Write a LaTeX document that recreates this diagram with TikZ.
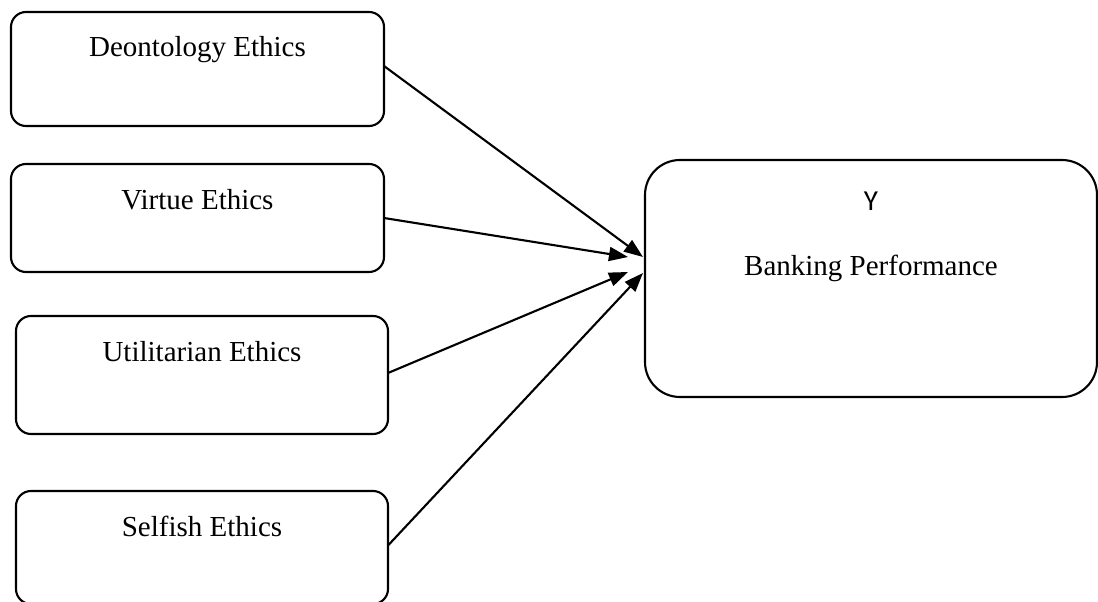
\documentclass[tikz,border=0pt]{standalone}
\usepackage{fontspec}
\setmainfont{Liberation Serif}
\newfontfamily\ycarlito{Carlito}
\usepackage{tikz}
\usetikzlibrary{shapes.geometric, arrows.meta}
\usetikzlibrary{positioning}
\tikzstyle{ethics} = [rectangle, rounded corners=0.3cm, minimum width=7.46cm, inner sep=0pt, outer sep=0pt, text height=0.9cm, text centered, draw=black, line width=1.2pt, font=\fontsize{16.5pt}{20pt}\selectfont]
\tikzstyle{perform} = [rectangle, rounded corners=0.7cm, minimum width=9.04cm, inner sep=0pt, outer sep=0pt, text height=2.3cm, text depth=2.44cm, text centered, draw=black, line width=1.2pt, font=\fontsize{16.5pt}{20pt}\selectfont]
\tikzstyle{arrow} = [line width=1.2pt, -{Triangle[length=0.38cm, width=0.28cm]}]

\begin{document}
\begin{tikzpicture}[node distance=3cm]
\useasboundingbox (0,0) rectangle (21.96,-12.04);

\node (deont) [ethics, text depth=1.38cm] at (3.95,-1.38) {Deontology Ethics};
\node (virtue) [ethics, text depth=1.26cm, below of=deont, yshift=0.02cm] {Virtue Ethics};
\node (util) [ethics, minimum width=7.44cm, text depth=1.46cm, below of=virtue, xshift=0.09cm, yshift=-0.14cm] {Utilitarian Ethics};
\node (selfish) [ethics, minimum width=7.44cm, text depth=1.36cm, below of=util, yshift=-0.45cm] {Selfish Ethics};
\node (bank) [perform, right=5.22cm of virtue, yshift=-1.21cm] {Banking Performance};
\node (yvar) [anchor=base, font=\ycarlito\fontsize{16.5pt}{20pt}\selectfont] at ([yshift=-1.0cm]bank.north) {Y};

\coordinate (tipD) at ([xshift=-0.04cm, yshift=0.43cm]bank.west);
\coordinate (tipV) at ([xshift=-0.34cm, yshift=0.43cm]bank.west);
\coordinate (tipU) at ([xshift=-0.34cm, yshift=0.13cm]bank.west);
\coordinate (tipS) at ([xshift=-0.04cm, yshift=0.11cm]bank.west);

\draw [arrow] ([yshift=0.06cm]deont.east) -- (tipD);
\draw [arrow] (virtue.east) -- (tipV);
\draw [arrow] ([yshift=0.04cm]util.east) -- (tipU);
\draw [arrow] ([yshift=0.04cm]selfish.east) -- (tipS);

\end{tikzpicture}
\end{document}
